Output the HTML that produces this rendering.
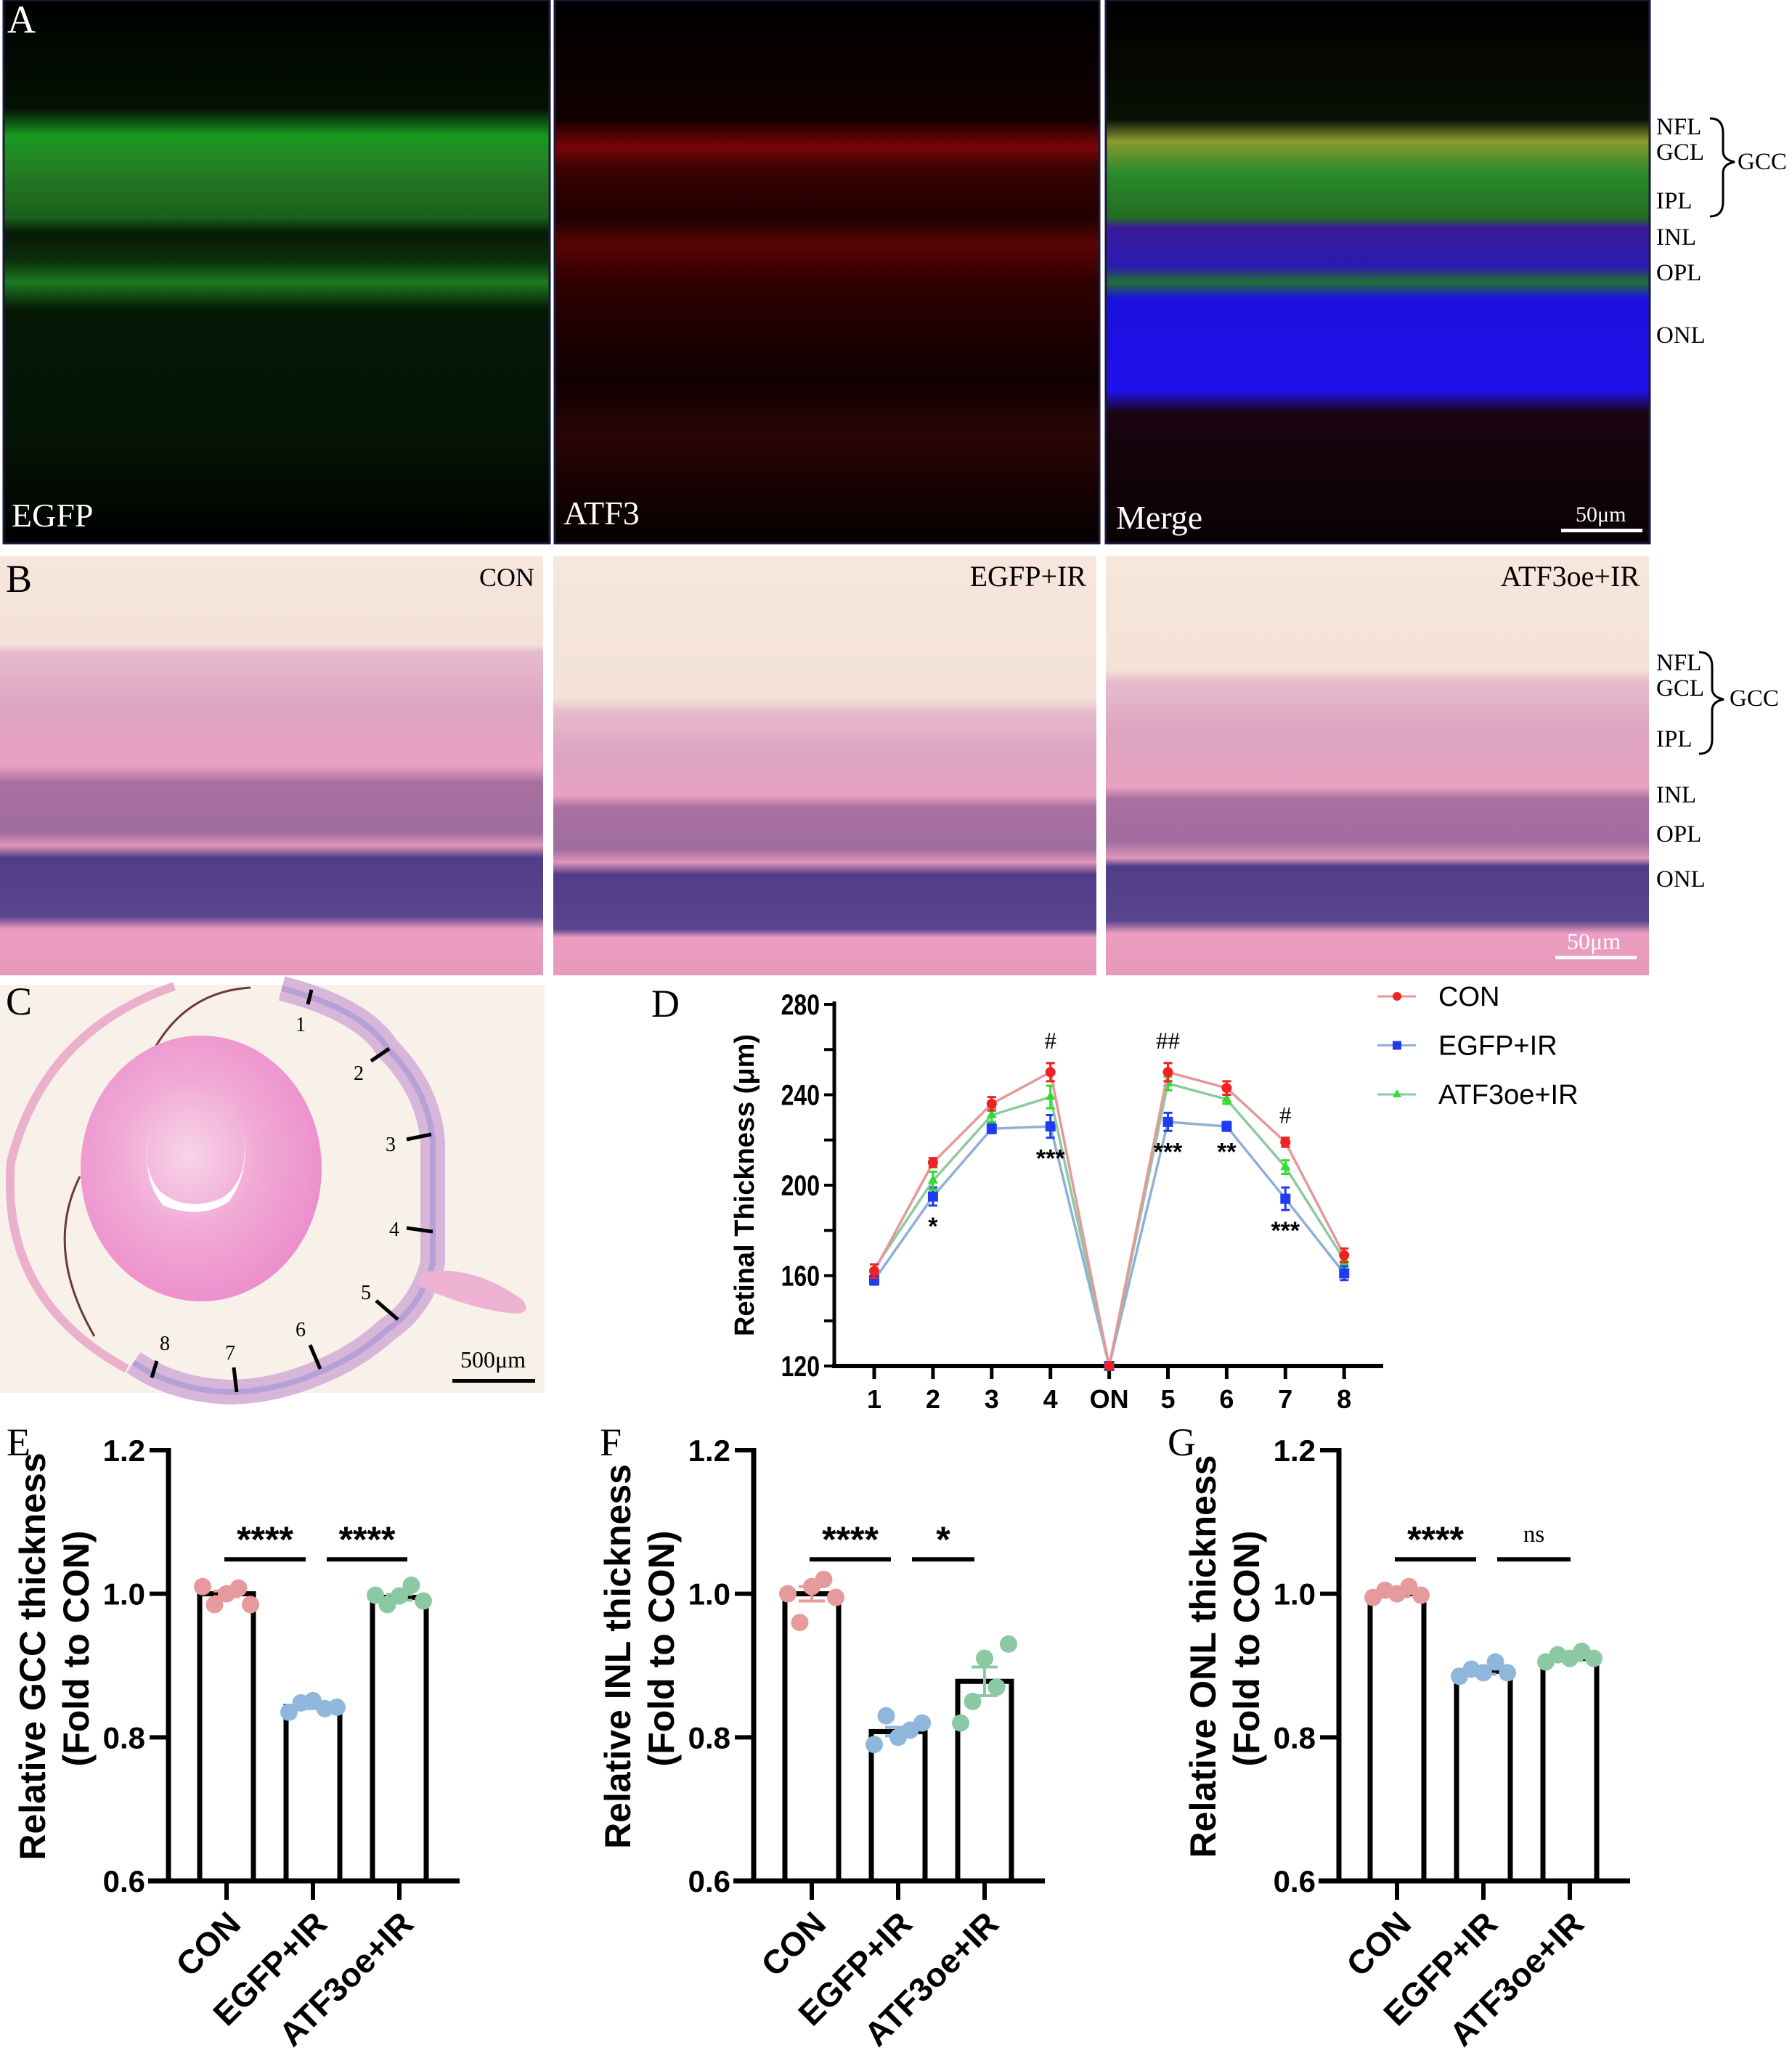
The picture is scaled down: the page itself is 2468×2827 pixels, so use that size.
<!DOCTYPE html>
<html><head><meta charset="utf-8"><style>
html,body{margin:0;padding:0;background:#fff}
svg{display:block}
.lbl{font-family:"Liberation Serif",serif;font-size:33px;fill:#000}
.ax{font-family:"Liberation Sans",sans-serif;font-weight:bold;fill:#000}
</style></head><body>
<svg id="fig" width="2468" height="2827" viewBox="0 0 2468 2827" xmlns="http://www.w3.org/2000/svg">
<defs>
<linearGradient id="gG" x1="0" y1="0" x2="0" y2="1">
<stop offset="0" stop-color="#000"/><stop offset="0.2" stop-color="#031203"/><stop offset="0.25" stop-color="#1a9a22"/><stop offset="0.31" stop-color="#247f24"/><stop offset="0.4" stop-color="#1a5f1a"/><stop offset="0.43" stop-color="#061806"/><stop offset="0.48" stop-color="#0b300b"/><stop offset="0.52" stop-color="#1c7a20"/><stop offset="0.57" stop-color="#061806"/><stop offset="0.8" stop-color="#051505"/><stop offset="1" stop-color="#000"/></linearGradient>
<linearGradient id="gR" x1="0" y1="0" x2="0" y2="1">
<stop offset="0" stop-color="#000"/><stop offset="0.22" stop-color="#120000"/><stop offset="0.27" stop-color="#7a0606"/><stop offset="0.31" stop-color="#3a0202"/><stop offset="0.4" stop-color="#200000"/><stop offset="0.45" stop-color="#5a0404"/><stop offset="0.52" stop-color="#300000"/><stop offset="0.7" stop-color="#100000"/><stop offset="0.8" stop-color="#2a0505"/><stop offset="1" stop-color="#050000"/></linearGradient>
<linearGradient id="gM" x1="0" y1="0" x2="0" y2="1">
<stop offset="0" stop-color="#000"/><stop offset="0.22" stop-color="#0a1005"/><stop offset="0.26" stop-color="#8a9a30"/><stop offset="0.32" stop-color="#2a8a2a"/><stop offset="0.4" stop-color="#226d22"/><stop offset="0.42" stop-color="#3a1a9a"/><stop offset="0.49" stop-color="#2a1ab0"/><stop offset="0.52" stop-color="#207030"/><stop offset="0.55" stop-color="#1a10e0"/><stop offset="0.72" stop-color="#1f10e8"/><stop offset="0.76" stop-color="#1a0510"/><stop offset="1" stop-color="#0a0202"/></linearGradient>
<linearGradient id="bC" x1="0" y1="0" x2="0" y2="1">
<stop offset="0" stop-color="#f6e6dc"/><stop offset="0.21" stop-color="#f4e2d8"/><stop offset="0.23" stop-color="#e7bccb"/><stop offset="0.36" stop-color="#dca4c0"/><stop offset="0.5" stop-color="#e8a2c0"/><stop offset="0.54" stop-color="#a8709f"/><stop offset="0.66" stop-color="#a06da0"/><stop offset="0.69" stop-color="#e096b8"/><stop offset="0.72" stop-color="#503c88"/><stop offset="0.86" stop-color="#5a4590"/><stop offset="0.89" stop-color="#ec9cc0"/><stop offset="1" stop-color="#e59bbb"/></linearGradient>
<linearGradient id="bE" x1="0" y1="0" x2="0" y2="1">
<stop offset="0" stop-color="#f6e6dc"/><stop offset="0.34" stop-color="#f4e2d8"/><stop offset="0.37" stop-color="#e7bccb"/><stop offset="0.47" stop-color="#dca4c0"/><stop offset="0.57" stop-color="#e8a2c0"/><stop offset="0.6" stop-color="#a8709f"/><stop offset="0.7" stop-color="#a06da0"/><stop offset="0.73" stop-color="#e096b8"/><stop offset="0.76" stop-color="#503c88"/><stop offset="0.89" stop-color="#5a4590"/><stop offset="0.91" stop-color="#ec9cc0"/><stop offset="1" stop-color="#e59bbb"/></linearGradient>
<linearGradient id="bA" x1="0" y1="0" x2="0" y2="1">
<stop offset="0" stop-color="#f6e6dc"/><stop offset="0.27" stop-color="#f4e2d8"/><stop offset="0.3" stop-color="#e7bccb"/><stop offset="0.42" stop-color="#dca4c0"/><stop offset="0.55" stop-color="#e8a2c0"/><stop offset="0.58" stop-color="#a8709f"/><stop offset="0.68" stop-color="#a06da0"/><stop offset="0.72" stop-color="#e096b8"/><stop offset="0.74" stop-color="#503c88"/><stop offset="0.87" stop-color="#5a4590"/><stop offset="0.9" stop-color="#ec9cc0"/><stop offset="1" stop-color="#e59bbb"/></linearGradient>
<radialGradient id="lensG" cx="0.45" cy="0.45" r="0.6"><stop offset="0" stop-color="#f8d4ea"/><stop offset="0.5" stop-color="#f0a8d4"/><stop offset="1" stop-color="#ec8ccc"/></radialGradient>
</defs>

<!-- Panel A -->
<g>
<rect x="5" y="0" width="752" height="748" fill="url(#gG)" stroke="#1a1a40" stroke-width="3"/>
<rect x="764" y="0" width="750" height="748" fill="url(#gR)" stroke="#1a1a40" stroke-width="3"/>
<rect x="1523" y="0" width="749" height="748" fill="url(#gM)" stroke="#1a1a40" stroke-width="3"/>
<text class="lbl" x="10" y="45" style="font-size:54px;fill:#fff">A</text>
<text class="lbl" x="16" y="725" style="font-size:46px;fill:#fff">EGFP</text>
<text class="lbl" x="776" y="722" style="font-size:46px;fill:#fff">ATF3</text>
<text class="lbl" x="1537" y="728" style="font-size:46px;fill:#fff">Merge</text>
<text class="lbl" x="2170" y="718" style="font-size:30px;fill:#fff">50μm</text>
<rect x="2150" y="728" width="112" height="5" fill="#fff"/>
<g class="lbl">
<text x="2281" y="185">NFL</text><text x="2281" y="220">GCL</text><text x="2281" y="287">IPL</text>
<text x="2281" y="337">INL</text><text x="2281" y="386">OPL</text><text x="2281" y="472">ONL</text>
<text x="2393" y="233">GCC</text>
<path d="M2355,163 q18,0 18,20 v25 q0,12 16,15 q-16,3 -16,15 v40 q0,20 -18,20" fill="none" stroke="#000" stroke-width="3"/>
</g>
</g>

<!-- Panel B -->
<g>
<rect x="0" y="766" width="748" height="577" fill="url(#bC)"/>
<rect x="762" y="766" width="748" height="577" fill="url(#bE)"/>
<rect x="1523" y="766" width="748" height="577" fill="url(#bA)"/>
<text class="lbl" x="8" y="815" style="font-size:54px">B</text>
<text class="lbl" x="736" y="807" text-anchor="end" style="font-size:36px">CON</text>
<text class="lbl" x="1496" y="807" text-anchor="end" style="font-size:40px">EGFP+IR</text>
<text class="lbl" x="2258" y="807" text-anchor="end" style="font-size:40px">ATF3oe+IR</text>
<text class="lbl" x="2158" y="1307" style="font-size:32px;fill:#fff">50μm</text>
<rect x="2142" y="1316" width="112" height="5" fill="#fff"/>
<g class="lbl">
<text x="2281" y="923">NFL</text><text x="2281" y="958">GCL</text><text x="2281" y="1028">IPL</text>
<text x="2281" y="1105">INL</text><text x="2281" y="1159">OPL</text><text x="2281" y="1221">ONL</text>
<text x="2382" y="972">GCC</text>
<path d="M2340,898 q18,0 18,20 v30 q0,12 16,15 q-16,3 -16,15 v40 q0,20 -18,20" fill="none" stroke="#000" stroke-width="3"/>
</g>
</g>

<!-- Panel C -->
<g>
<rect x="0" y="1356" width="750" height="562" fill="#f8f1ea"/>
<path d="M240,1358 Q60,1420 15,1600 Q0,1790 175,1885" fill="none" stroke="#eab0cc" stroke-width="12"/>
<path d="M345,1360 Q260,1365 215,1440 Q195,1470 175,1475 M110,1620 Q60,1720 130,1840" fill="none" stroke="#6a3a3a" stroke-width="3"/>
<ellipse cx="277" cy="1609" rx="166" ry="183" fill="url(#lensG)"/>
<path d="M205,1565 q-10,60 20,95 q50,20 90,-5 q30,-40 20,-100 q10,70 -30,95 q-50,20 -85,-10 q-25,-30 -15,-75z" fill="#fff"/>
<path d="M388,1361 Q500,1390 533,1443 Q590,1500 596,1572 L596,1739 Q580,1800 533,1831 Q490,1870 436,1891 Q380,1915 320,1917 Q240,1915 184,1876" fill="none" stroke="#d7b6da" stroke-width="34"/>
<path d="M388,1361 Q500,1390 533,1443 Q590,1500 596,1572 L596,1739 Q580,1800 533,1831 Q490,1870 436,1891 Q380,1915 320,1917 Q240,1915 184,1876" fill="none" stroke="#b7a0d6" stroke-width="8"/>
<path d="M582,1752 Q650,1740 720,1790 Q735,1812 700,1808 Q640,1800 575,1770z" fill="#eeb2d2"/>
<g stroke="#000" stroke-width="5">
<line x1="429" y1="1363" x2="424" y2="1383"/><line x1="536" y1="1444" x2="511" y2="1461"/>
<line x1="594" y1="1562" x2="560" y2="1569"/><line x1="560" y1="1691" x2="596" y2="1696"/>
<line x1="518" y1="1791" x2="548" y2="1817"/><line x1="427" y1="1852" x2="441" y2="1885"/>
<line x1="322" y1="1883" x2="326" y2="1917"/><line x1="216" y1="1874" x2="209" y2="1897"/>
</g>
<g class="lbl" style="font-size:28px" text-anchor="middle">
<text x="414" y="1420">1</text><text x="494" y="1487">2</text><text x="538" y="1585">3</text><text x="543" y="1702">4</text>
<text x="504" y="1789">5</text><text x="414" y="1840">6</text><text x="317" y="1872">7</text><text x="227" y="1859">8</text>
</g>
<text class="lbl" x="8" y="1397" style="font-size:54px">C</text>
<text class="lbl" x="679" y="1883" text-anchor="middle" style="font-size:32px">500μm</text>
<rect x="623" y="1899" width="114" height="5" fill="#000"/>
</g>

<!-- Panel D -->
<g id="chartD">
<text class="lbl" x="897" y="1400" style="font-size:54px">D</text>
</g>
<!-- Panels E F G -->
<g id="charts">
<text class="lbl" x="9" y="2004" style="font-size:54px">E</text>
<text class="lbl" x="826" y="2004" style="font-size:54px">F</text>
<text class="lbl" x="1608" y="2004" style="font-size:54px">G</text>
</g>
</svg>
<script>
const NS="http://www.w3.org/2000/svg";
// ---- Panel D data ----
const dCategories=["1","2","3","4","ON","5","6","7","8"];
const dCon=[162,210,236,250,120,250,243,219,169];
const dEgfp=[158,195,225,226,120,228,226,194,161];
const dAtf=[163,202,231,239,120,245,238,208,167];
const dConErr=[3,2,3,4,0,4,3,2,3];
const dEgfpErr=[2,4,2,5,0,4,2,5,3];
const dAtfErr=[2,4,3,5,0,3,2,3,2];
const dYTicks=[120,160,200,240,280];
const dStars=["","*","","***","","***","**","***",""];
const dHash=["","","","#","","##","","#",""];
const dSeriesNames=["CON","EGFP+IR","ATF3oe+IR"];
// ---- Bar chart data ----
const barGroups=["CON","EGFP+IR","ATF3oe+IR"];
const gccMeans=[1.0,0.843,0.995];
const gccErr=[0.004,0.003,0.004];
const gccDots=[[1.01,0.985,1.0,1.008,0.985],[0.835,0.848,0.851,0.84,0.842],[0.998,0.985,0.997,1.012,0.99]];
const inlMeans=[1.0,0.808,0.878];
const inlErr=[0.01,0.006,0.02];
const inlDots=[[1.0,0.96,1.01,1.02,0.995],[0.79,0.83,0.80,0.81,0.82],[0.82,0.85,0.91,0.87,0.93]];
const onlMeans=[1.0,0.892,0.91];
const onlErr=[0.004,0.004,0.003];
const onlDots=[[0.995,1.005,1.0,1.01,0.998],[0.885,0.895,0.89,0.905,0.89],[0.905,0.915,0.91,0.92,0.91]];
const barYTicks=[0.6,0.8,1.0,1.2];

function el(tag,attrs,parent){const e=document.createElementNS(NS,tag);for(const k in attrs)e.setAttribute(k,attrs[k]);parent.appendChild(e);return e;}

// Panel D
(function(){
const g=document.getElementById('chartD');
const x0=1149,yTop=1383,yBot=1881,xFirst=1204,xStep=80.9,xEnd=1905;
const y=v=>yBot-(v-120)/160*(yBot-yTop);
const x=i=>xFirst+i*xStep;
let a=el('line',{x1:x0,y1:yTop-4,x2:x0,y2:yBot+3,stroke:'#000','stroke-width':5},g);

a=el('line',{x1:x0-3,y1:yBot,x2:xEnd,y2:yBot,stroke:'#000','stroke-width':6},g);

for(let v=120;v<=280;v+=20){
 const t=el('line',{x1:x0-14,y1:y(v),x2:x0,y2:y(v),stroke:'#000','stroke-width':4},g);
 
}
dYTicks.forEach(v=>{const t=el('text',{x:x0-20,y:y(v)+14,'text-anchor':'end',class:'ax','font-size':40,transform:`translate(${x0-20},0) scale(0.8,1) translate(${-(x0-20)},0)`},g);t.textContent=v;
 });
dCategories.forEach((c,i)=>{
 const t=el('line',{x1:x(i),y1:yBot,x2:x(i),y2:yBot+18,stroke:'#000','stroke-width':5},g);
 
 const l=el('text',{x:x(i),y:yBot+58,'text-anchor':'middle',class:'ax','font-size':36},g);l.textContent=c;
 
});
const tt=el('text',{x:0,y:0,'text-anchor':'middle',class:'ax','font-size':38,transform:`translate(1038,${(yTop+yBot)/2}) rotate(-90)`},g);
tt.textContent='Retinal Thickness (μm)';
const series=[[dEgfp,dEgfpErr,'#8eb0d8','#1f3cf0','sq'],[dAtf,dAtfErr,'#8ccaa0','#2ddc2d','tri'],[dCon,dConErr,'#e4989a','#ee2222','dot']];
series.forEach(([vals,err,lc,mc,sh],si)=>{
 const p=el('polyline',{points:vals.map((v,i)=>x(i)+','+y(v)).join(' '),fill:'none',stroke:lc,'stroke-width':3.5},g);
 
 vals.forEach((v,i)=>{
  if(err[i]>0){const e=el('path',{d:`M${x(i)},${y(v+err[i])}V${y(v-err[i])}M${x(i)-6},${y(v+err[i])}h12M${x(i)-6},${y(v-err[i])}h12`,stroke:mc,'stroke-width':3,fill:'none'},g);
   }
  let m;
  if(sh==='dot')m=el('circle',{cx:x(i),cy:y(v),r:7,fill:mc},g);
  else if(sh==='sq')m=el('rect',{x:x(i)-7,y:y(v)-7,width:14,height:14,fill:mc},g);
  else m=el('path',{d:`M${x(i)},${y(v)-8}l7,12h-14z`,fill:mc},g);
  
 });
});
dCategories.forEach((c,i)=>{
 if(dStars[i]){const s=el('text',{x:x(i),y:y(dEgfp[i]-dEgfpErr[i])+40,'text-anchor':'middle',class:'ax','font-size':34},g);s.textContent=dStars[i];
  }
 if(dHash[i]){const s=el('text',{x:x(i),y:y(dCon[i]+dConErr[i])-20,'text-anchor':'middle',class:'lbl','font-size':28},g);s.textContent=dHash[i];
  }
});
const leg=[['#e4989a','#ee2222','dot'],['#8eb0d8','#1f3cf0','sq'],['#8ccaa0','#2ddc2d','tri']];
leg.forEach(([lc,mc,sh],k)=>{
 const ly=1372+k*67.5;
 const ln=el('line',{x1:1897,y1:ly,x2:1950,y2:ly,stroke:lc,'stroke-width':3},g);
 
 let m;const cx=1924;
 if(sh==='dot')m=el('circle',{cx:cx,cy:ly,r:6,fill:mc},g);
 else if(sh==='sq')m=el('rect',{x:cx-6,y:ly-6,width:12,height:12,fill:mc},g);
 else m=el('path',{d:`M${cx},${ly-7}l6,11h-12z`,fill:mc},g);
 
 const t=el('text',{x:1981,y:ly+13,'font-family':'Liberation Sans, sans-serif','font-size':38},g);t.textContent=dSeriesNames[k];
 
});
})();

// Bar charts
function barChart(ax,means,err,dots,title,sig,l2,name){
 const g=document.getElementById('charts');
 const yTop=1997,yBot=2590;
 const y=v=>yBot-(v-0.6)/0.6*(yBot-yTop);
 const cx=i=>ax+80+i*119;
 let a=el('line',{x1:ax,y1:yTop-3,x2:ax,y2:yBot+3,stroke:'#000','stroke-width':7},g);
 
 a=el('line',{x1:ax-28,y1:yBot,x2:ax+401,y2:yBot,stroke:'#000','stroke-width':7},g);
 
 barYTicks.forEach(v=>{
  const t=el('line',{x1:ax-26,y1:y(v),x2:ax,y2:y(v),stroke:'#000','stroke-width':6},g);
  
  const l=el('text',{x:ax-32,y:y(v)+15,'text-anchor':'end',class:'ax','font-size':42},g);l.textContent=v.toFixed(1);
  
 });
 const cols=['#e69a9c','#8fb7dc','#8cc9a2'];
 means.forEach((m,i)=>{
  const b=el('rect',{x:cx(i)-37,y:y(m),width:74,height:yBot-y(m),fill:'#fff',stroke:'#000','stroke-width':7},g);
  
  const t=el('line',{x1:cx(i),y1:yBot,x2:cx(i),y2:yBot+26,stroke:'#000','stroke-width':6},g);
  
  dots[i].forEach((d,k)=>{
   const c=el('circle',{cx:cx(i)-33+k*16.5,cy:y(d),r:12,fill:cols[i]},g);
   
  });
  const e=el('path',{d:`M${cx(i)-18},${y(m+err[i])}h36M${cx(i)},${y(m+err[i])}V${y(m-err[i])}M${cx(i)-18},${y(m-err[i])}h36`,stroke:cols[i],'stroke-width':4,fill:'none'},g);
  
  const l=el('text',{x:0,y:0,'text-anchor':'end',class:'ax','font-size':46,transform:`translate(${cx(i)+22},${yBot+62}) rotate(-45)`},g);l.textContent=barGroups[i];
  
 });
 const sy=y(1.048);
 [[ax+77,ax+189,sig[0]],[ax+218,l2,sig[1]]].forEach(([x1,x2,s])=>{
  const ln=el('line',{x1:x1,y1:sy,x2:x2,y2:sy,stroke:'#000','stroke-width':6},g);
  
  const t=el('text',{x:(x1+x2)/2,y:s==='ns'?sy-24:sy-10,'text-anchor':'middle',class:s==='ns'?'lbl':'ax','font-size':s==='ns'?32:50},g);t.textContent=s;
  
 });
 const t1=el('text',{x:0,y:0,'text-anchor':'middle',class:'ax','font-size':50,transform:`translate(${ax-170},2281) rotate(-90)`},g);t1.textContent=title;
 
 const t2=el('text',{x:0,y:0,'text-anchor':'middle',class:'ax','font-size':50,transform:`translate(${ax-110},2270) rotate(-90)`},g);t2.textContent='(Fold to CON)';
 
}
barChart(232,gccMeans,gccErr,gccDots,'Relative GCC thickness',['****','****'],561,'gcc');
barChart(1038,inlMeans,inlErr,inlDots,'Relative INL thickness',['****','*'],1342,'inl');
barChart(1844,onlMeans,onlErr,onlDots,'Relative ONL thickness',['****','ns'],2163,'onl');
</script>
</body></html>
